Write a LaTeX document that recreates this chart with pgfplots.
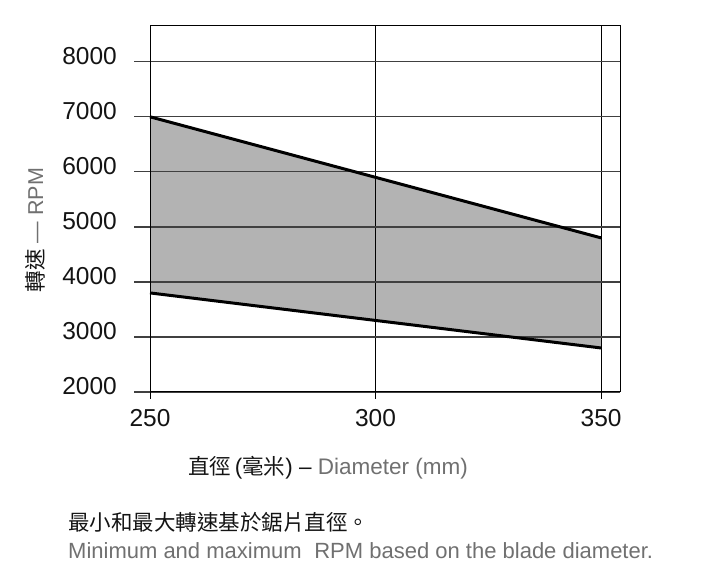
\documentclass[border=0pt]{standalone}
\usepackage{fontspec}
\setmainfont{Liberation Sans}
\newfontfamily\cjk{Noto Sans CJK TC}
\usepackage{pgfplots}
\pgfplotsset{compat=1.18}
\definecolor{txtgray}{HTML}{707070}
\definecolor{txtdark}{HTML}{141414}
\definecolor{bandgray}{HTML}{B3B3B3}
\definecolor{gridgray}{HTML}{404040}
\begin{document}
\begin{tikzpicture}[x=1bp,y=1bp]
\path (0,0) rectangle (704,582);
\begin{axis}[
  set layers,
  at={(150bp,190bp)}, anchor=south west,
  scale only axis, width=470bp, height=366bp,
  xmin=250, xmax=354.2, ymin=2000, ymax=8650,
  xtick={250,300,350}, ytick={2000,3000,...,8000},
  ytick pos=left, xtick pos=bottom,
  /pgf/number format/assume math mode=true,
  /pgf/number format/1000 sep={},
  tick align=outside, major tick length=16bp,
  xtick style={draw=none},
  ytick style={gridgray, line width=1.3bp},
  grid=major,
  major y grid style={gridgray, line width=1.3bp},
  major x grid style={black, line width=1bp},
  axis line style={black, line width=1bp},
  yticklabel style={font=\fontsize{24.5bp}{28bp}\selectfont, text=txtdark, anchor=east, inner sep=0pt, xshift=-17bp, yshift=6bp},
  xticklabel style={font=\fontsize{24.5bp}{28bp}\selectfont, text=txtdark, anchor=north, inner sep=0pt, yshift=-1bp},
  clip=false,
]
\addplot[on layer=axis background, fill=bandgray, draw=none]
  coordinates {(250,7000) (300,5900) (350,4800) (350,2800) (300,3300) (250,3800)} -- cycle;
\addplot[black, line width=3bp] coordinates {(250,7000) (300,5900) (350,4800)};
\addplot[black, line width=3bp] coordinates {(250,3800) (300,3300) (350,2800)};
\end{axis}
\foreach \xx in {150,375.5,601.05} {
  \draw[black, line width=1bp] (\xx,190) -- (\xx,183);
}
\node[anchor=center, rotate=90, font=\fontsize{21.5bp}{25bp}\selectfont] at (35,352)
  {{\cjk\color{txtdark}轉速} \textcolor{txtgray}{— RPM}};
\node[anchor=west, font=\fontsize{22.5bp}{25bp}\selectfont, inner sep=0pt] at (188,114)
  {{\cjk\fontsize{21.5bp}{25bp}\selectfont\color{txtdark}直徑}\,\textcolor{txtdark}{(}{\cjk\fontsize{21.5bp}{25bp}\selectfont\color{txtdark}毫米}\textcolor{txtdark}{) –} \textcolor{txtgray}{Diameter (mm)}};
\node[anchor=west, font=\fontsize{21.5bp}{25bp}\selectfont, inner sep=0pt] at (68,60)
  {\cjk\color{txtdark}最小和最大轉速基於鋸片直徑。};
\node[anchor=west, font=\fontsize{22bp}{25bp}\selectfont, inner sep=0pt, text=txtgray] at (68,31)
  {Minimum and maximum\hspace{0.3em} RPM based on the blade diameter.};
\end{tikzpicture}
\end{document}
